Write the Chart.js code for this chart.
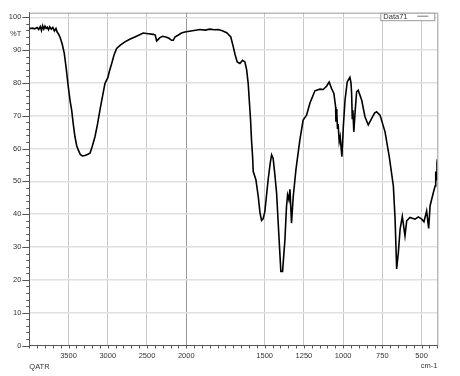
<!DOCTYPE html>
<html><head><meta charset="utf-8">
<script src="https://cdn.jsdelivr.net/npm/chart.js@4"></script>
<style>html,body{margin:0;padding:0;background:#fff}#wrap{width:460px;height:376px}</style>
</head><body><div id="wrap"><canvas id="c" width="460" height="376"></canvas></div>
<script>
const wavenumbers = [4000,3960,3930,3900,3880,3860,3845,3830,3815,3800,3785,3770,3755,3740,3720,3700,3680,3660,3645,3630,3609,3580,3554,3530,3503,3480,3460,3440,3418,3395,3376,3350,3325,3290,3260,3227,3200,3163,3130,3100,3070,3036,3014,3000,2980,2950,2920,2887,2840,2781,2720,2654,2600,2548,2484,2420,2395,2377,2360,2335,2300,2260,2220,2186,2165,2144,2100,2060,2017,2000,1960,1913,1880,1850,1820,1796,1770,1742,1716,1700,1688,1675,1658,1641,1626,1615,1605,1590,1584,1577,1573,1556,1541,1530,1520,1510,1499,1478,1465,1456,1446,1435,1424,1408,1397,1386,1371,1361,1354,1346,1339,1329,1318,1301,1276,1255,1233,1212,1180,1148,1127,1106,1089,1074,1059,1048,1046,1043,1040,1036,1032,1025,1019,1008,999,988,974,957,950,946,942,938,932,923,914,904,882,861,840,818,800,787,765,733,706,680,669,659,648,637,623,606,595,574,542,521,499,485,468,455,446,425,414,410,405,402,400];
const transmittance = [96.6,96.7,96.5,96.9,96.3,97.2,96.0,97.4,96.4,97.3,96.6,97.0,96.2,97.1,96.4,96.9,95.8,96.6,95.5,95.0,94.0,91.8,89.0,84.5,78.8,74.5,71.7,67.5,63.6,60.8,59.6,58.2,57.8,57.9,58.2,58.6,60.5,63.6,67.5,71.7,75.5,79.8,80.9,81.5,83.5,85.9,88.5,90.5,91.5,92.5,93.3,94.0,94.6,95.2,95.0,94.8,94.6,92.8,93.2,93.8,94.2,94.0,93.6,93.0,93.0,94.0,94.6,95.2,95.5,95.6,95.9,96.3,96.1,96.4,96.2,96.3,95.9,95.3,94.0,91.0,88.5,86.4,85.9,86.9,86.4,84.0,79.8,68.7,62.6,57.5,53.0,50.5,45.4,40.5,38.1,38.6,40.8,50.5,55.5,58.1,57.0,52.0,46.4,32.2,22.6,22.6,32.2,42.3,45.9,44.4,47.6,37.3,45.4,53.5,62.6,68.7,70.2,73.8,77.6,78.1,78.0,79.0,80.3,78.3,76.8,72.7,68.2,72.0,70.5,66.0,67.5,62.1,63.6,57.5,66.6,74.8,80.3,81.7,80.0,76.8,69.2,71.7,65.1,71.7,77.3,77.8,74.8,69.7,67.2,69.2,70.8,71.2,70.2,65.1,57.5,48.6,38.5,23.3,28.4,35.5,39.3,33.4,38.0,39.0,38.5,39.2,38.5,37.7,41.0,35.7,42.6,46.6,48.6,53.0,50.5,55.5,56.7];
const xMajorTicks = [3500,3000,2500,2000,1500,1250,1000,750,500];
const yMajorTicks = [0,10,20,30,40,50,60,70,80,90,100];
const seriesName = 'Data71';
const yAxisTitle = '%T';
const xAxisUnit = 'cm-1';
const methodLabel = 'QATR';

// wavenumber axis with 2x expansion below 2000 cm-1
function toU(w){ return w >= 2000 ? 4000 - w : 6000 - 2*w; }
function toW(u){ return u <= 2000 ? 4000 - u : (6000 - u)/2; }

const points = wavenumbers.map((w,i)=>({x: toU(w), y: transmittance[i]}));
const FONT = "'Liberation Sans', Arial, sans-serif";

const decor = {
  id:'decor',
  afterDraw(chart){
    const ctx = chart.ctx, a = chart.chartArea;
    const xs = chart.scales.x, ys = chart.scales.y;
    ctx.save();
    ctx.strokeStyle = '#9c9c9c'; ctx.lineWidth = 1;
    ctx.beginPath();
    ctx.moveTo(a.left, a.top+0.5); ctx.lineTo(a.right+0.5, a.top+0.5); ctx.lineTo(a.right+0.5, a.bottom);
    ctx.stroke();
    ctx.strokeStyle = '#555';
    ctx.beginPath();
    xs.ticks.forEach(t=>{
      const px = Math.round(xs.getPixelForValue(t.value))+0.5;
      ctx.moveTo(px, a.bottom); ctx.lineTo(px, a.bottom+3);
    });
    ys.ticks.forEach(t=>{
      if (t.value === 95) return;
      const py = Math.round(ys.getPixelForValue(t.value))+0.5;
      const len = (t.value % 10 === 0) ? 7 : 3;
      ctx.moveTo(a.left-len, py); ctx.lineTo(a.left, py);
    });
    ctx.stroke();
    const bx = a.right - 57, by = a.top, bw = 54, bh = 7.5;
    ctx.fillStyle = '#fff'; ctx.fillRect(bx, by, bw, bh);
    ctx.strokeStyle = '#999'; ctx.strokeRect(bx+0.5, by+0.5, bw, bh);
    ctx.fillStyle = '#333'; ctx.font = '7.5px ' + FONT;
    ctx.textBaseline = 'middle'; ctx.textAlign = 'left';
    ctx.fillText(seriesName, bx+3, by+4.2);
    ctx.strokeStyle = '#777'; ctx.beginPath();
    ctx.moveTo(bx+37, by+3.5); ctx.lineTo(bx+48, by+3.5); ctx.stroke();
    ctx.fillStyle = '#333'; ctx.font = '7.5px ' + FONT;
    ctx.textAlign = 'left';
    ctx.fillText(methodLabel, a.left, 367);
    ctx.textAlign = 'right';
    ctx.fillText(xAxisUnit, a.right, 365.5);
    ctx.restore();
  }
};

new Chart(document.getElementById('c'), {
  type:'line',
  data:{ datasets:[{ label: seriesName, data: points, borderColor:'#000', borderWidth:1.6,
    pointRadius:0, fill:false, tension:0 }]},
  options:{
    responsive:false, animation:false,
    layout:{ padding:{ left:0, right:22.7, top:12.7, bottom:0 } },
    plugins:{ legend:{display:false}, tooltip:{enabled:false} },
    scales:{
      x:{ type:'linear', min:0, max:5200,
        afterBuildTicks(s){ const t=[]; for(let u=0;u<=5200;u+=100) t.push({value:u}); s.ticks=t; },
        afterFit(s){ s.height = 30.5; },
        ticks:{ autoSkip:false, maxRotation:0, minRotation:0, padding:6, color:'#333',
          font:{ size:7.5, family:FONT },
          callback(v){ const w = toW(v); return xMajorTicks.includes(w) ? String(w) : ''; } },
        grid:{ drawTicks:false,
          color(c){ const w = toW(c.tick.value); if(!xMajorTicks.includes(w)) return 'rgba(0,0,0,0)'; return w===2000 ? '#9a9a9a' : '#c8c8c8'; },
          lineWidth:1 },
        border:{ display:true, color:'#555', width:1 }
      },
      y:{ type:'linear', min:0, max:101.4,
        afterBuildTicks(s){ const t=[]; for(let v=0;v<=100;v+=2){ t.push({value:v}); if(v===94) t.push({value:95}); } s.ticks=t; },
        afterFit(s){ s.width = 29.3; },
        ticks:{ autoSkip:false, padding:8, color:'#333', font:{ size:7.5, family:FONT },
          callback(v){ if (v===95) return yAxisTitle; return yMajorTicks.includes(v) ? String(v) : ''; } },
        grid:{ drawTicks:false,
          color(c){ const v=c.tick.value; return (yMajorTicks.includes(v) && v!==0) ? '#e0e0e0' : 'rgba(0,0,0,0)'; },
          lineWidth:1.5 },
        border:{ display:true, color:'#555', width:1 }
      }
    }
  },
  plugins:[decor]
});
</script></body></html>
